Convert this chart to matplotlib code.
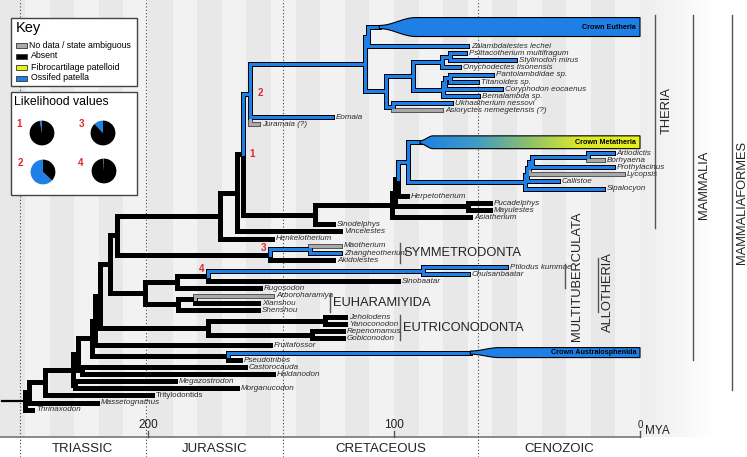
import numpy as np
import matplotlib
matplotlib.use("Agg")
import matplotlib.pyplot as plt
from matplotlib.patches import Polygon, Rectangle
from matplotlib.colors import LinearSegmentedColormap

plt.rcParams["font.family"] = ["Liberation Sans", "DejaVu Sans"]

BLUE = "#1e80e6"
GRAY = "#a9a9a9"
YELLOW = "#e8f01c"

# ---------------- tree data ----------------
TIP_NAMES = [
    "Crown Eutheria", "Zalambdalestes lechei", "Psittacotherium multifragum", "Stylinodon mirus",
    "Onychodectes tisonensis", "Pantolambdidae sp.", "Titanoides sp.", "Coryphodon eocaenus",
    "Bemalambda sp.", "Ukhaatherium nessovi", "Asioryctes nemegetensis (?)", "Eomaia", "Juramaia (?)",
    "Crown Metatheria", "Artiodictis", "Borhyaena", "Prothylacinus", "Lycopsis", "Callistoe",
    "Sipalocyon", "Herpetotherium", "Pucadelphys", "Mayulestes", "Asiatherium", "Sinodelphys",
    "Vincelestes", "Henkelotherium", "Maotherium", "Zhangheotherium", "Akidolestes",
    "Ptilodus kummae", "Chulsanbaatar", "Sinobaatar", "Rugosodon", "Arboroharamiya", "Xianshou",
    "Shenshou", "Jeholodens", "Yanoconodon", "Repenomamus", "Gobiconodon", "Fruitafossor",
    "Crown Australosphenida", "Pseudotribos", "Castorocauda", "Haldanodon", "Megazostrodon",
    "Morganucodon", "Tritylodontids", "Massetognathus", "Thrinaxodon",
]
TIP_ROWS = [-2.66, 0, 1, 2, 3, 4, 5, 6, 7, 8, 9, 10, 11, 13.5, 15, 16, 17, 18, 19, 20, 21, 22, 23,
            24, 25, 26, 27, 28, 29, 30, 31, 32, 33, 34, 35, 36, 37, 38, 39, 40, 41, 42, 43, 44, 45,
            46, 47, 48, 49, 50, 51]
TIP_AGES = [0, 70.3, 71.1, 50.8, 73.6, 60.2, 66.3, 56.5, 65.9, 76.8, 80.9, 125.2, 155.3,
            0, 11, 15, 11, 7, 33.3, 15, 94.7, 61, 61, 69, 124.8, 122, 149.6, 122, 122, 124.8,
            54.5, 70, 98.4, 154.5, 149.6, 155.3, 155.3, 120, 120, 120.7, 120.7, 150.4,
            0, 162.6, 160.6, 149.2, 189, 163.8, 198.4, 220.7, 247]
TIP_STATES = ["crown", "blue", "blue", "blue", "blue", "blue", "blue", "blue", "blue", "blue",
              "gray", "blue", "gray", "crown", "blue", "gray", "blue", "gray", "blue", "blue",
              "black", "black", "black", "black", "black", "black", "black", "gray", "blue",
              "black", "blue", "blue", "black", "black", "gray", "black", "black", "black",
              "black", "black", "black", "black", "crown", "black", "black", "black", "black",
              "black", "black", "black", "black"]

NODE_NAMES = ["root", "n29", "n45", "nB", "nA", "n92", "n95", "n100", "n110", "n117", "n220",
              "n237", "theria", "eutheria", "n365", "n368", "n386", "n413", "n442", "n450a",
              "n443", "n445", "n450b", "n393", "n315", "nX", "nY", "nZ", "n408", "n525", "n527",
              "n529", "n532", "n588", "n468", "sym3", "n310", "n145", "n177", "multi4", "n423",
              "n178", "n195", "eutric", "n325", "n312", "austral", "docodont", "morgano"]
NODE_AGES = [250, 248.4, 241.9, 230.5, 228.5, 222.8, 221.5, 219.5, 215.4, 212.6, 170.7,
             163.8, 161.4, 158.5, 111.8, 110.6, 103.3, 92.3, 80.5, 77.2,
             80.1, 79.3, 77.2, 100.4, 132.1, 100.8, 99.6, 98.4, 94.3, 46.7, 45.9,
             45.1, 43.9, 21.1, 69.9, 150.4, 134.1, 201.2, 188.2, 175.6, 88.2,
             187.8, 180.9, 175.6, 128, 133.3, 167.5, 226.8, 229.7]
NODE_CHILDREN = [
    ["n29", "Thrinaxodon"], ["n45", "Massetognathus"], ["nB", "Tritylodontids"],
    ["nA", "morgano"], ["n92", "docodont"], ["n95", "austral"], ["n100", "Fruitafossor"],
    ["n110", "eutric"], ["n117", "n145"], ["n220", "sym3"], ["n237", "Henkelotherium"],
    ["theria", "Vincelestes"], ["eutheria", "n315"], ["n365", "Eomaia", "Juramaia (?)"],
    ["n368", "n386"], ["Crown Eutheria", "Zalambdalestes lechei"], ["n413", "n393"],
    ["n442", "n443"], ["n450a", "Onychodectes tisonensis"],
    ["Psittacotherium multifragum", "Stylinodon mirus"], ["n445", "Bemalambda sp."],
    ["n450b", "Coryphodon eocaenus"], ["Pantolambdidae sp.", "Titanoides sp."],
    ["Ukhaatherium nessovi", "Asioryctes nemegetensis (?)"], ["nX", "Sinodelphys"],
    ["nY", "Asiatherium"], ["nZ", "n468"], ["n408", "Herpetotherium"],
    ["Crown Metatheria", "n525"], ["n527", "Sipalocyon"], ["n529", "Callistoe"],
    ["n532", "Lycopsis"], ["n588", "Prothylacinus"], ["Artiodictis", "Borhyaena"],
    ["Pucadelphys", "Mayulestes"], ["n310", "Akidolestes"], ["Maotherium", "Zhangheotherium"],
    ["n177", "n178"], ["multi4", "Rugosodon"], ["n423", "Sinobaatar"],
    ["Ptilodus kummae", "Chulsanbaatar"], ["n195", "Shenshou"], ["Arboroharamiya", "Xianshou"],
    ["n325", "n312"], ["Jeholodens", "Yanoconodon"], ["Repenomamus", "Gobiconodon"],
    ["Crown Australosphenida", "Pseudotribos"], ["Castorocauda", "Haldanodon"],
    ["Megazostrodon", "Morganucodon"],
]
NODE_STATES = ["black", "black", "black", "black", "black", "black", "black", "black", "black",
               "black", "black", "black", "black", "blue", "blue", "blue", "blue", "blue", "blue",
               "blue", "blue", "blue", "blue", "blue", "black", "black", "black", "black", "blue",
               "blue", "blue", "blue", "blue", "blue", "black", "black", "blue", "black", "black",
               "black", "blue", "black", "black", "black", "black", "black", "black", "black",
               "black"]
ROOT_START = 259.3

# crown wedges: start of widening, full width age, half height (rows)
CROWN_NAMES = ["Crown Eutheria", "Crown Metatheria", "Crown Australosphenida"]
CROWN_START = [106, 89.4, 69]
CROWN_FULL = [91, 84, 57]
CROWN_HALF = [1.33, 0.9, 0.7]

NODE_MARKS = ["theria", "eutheria", "sym3", "multi4"]
NODE_MARK_TEXT = ["1", "2", "3", "4"]

PERIOD_NAMES = ["TRIASSIC", "JURASSIC", "CRETACEOUS", "CENOZOIC"]
PERIOD_BOUNDS = [252, 201, 145, 66, 0]
AXIS_TICKS = [200, 100, 0]

KEY_LABELS = ["No data / state ambiguous", "Absent", "Fibrocartilage patelloid", "Ossifed patella"]
KEY_COLORS = [GRAY, "black", YELLOW, BLUE]
PIE_LABELS = ["1", "3", "2", "4"]
PIE_OSSIFIED = [0.03, 0.12, 0.63, 0.01]

# ---------------- layout ----------------
W, H = 747, 457
PX_PER_MY = 2.46
X0 = 640
ROW_PX = 7.13
ROW0 = 46


def row(y):
    return (y - ROW0) / ROW_PX


fig = plt.figure(figsize=(W / 100, H / 100), dpi=100)
ax = fig.add_axes([0, 0, 1, 1])
ax.set_xlim(X0 / PX_PER_MY, (X0 - W) / PX_PER_MY)
ax.set_ylim(row(H), row(0))
ax.axis("off")

# background stripes
axis_frac = (H - 437) / H
for i, a in enumerate(range(0, 260, 10)):
    ax.axvspan(a, a + 10, ymin=axis_frac, ymax=1,
               color="#e8e8e8" if i % 2 else "#f2f2f2", lw=0, zorder=0)
fade = np.ones((1, 64, 4))
fade[0, :, :3] = np.linspace(0.93, 1.0, 64)[:, None]
ax.imshow(fade, extent=[0, -30, row(437), row(0)], aspect="auto", zorder=0)

for b in PERIOD_BOUNDS[:-1]:
    ax.axvline(b, color="#444444", ls=(0, (1, 2)), lw=0.8, zorder=1)

# ---------------- tree positions ----------------
pos = {n: (a, r) for n, r, a in zip(TIP_NAMES, TIP_ROWS, TIP_AGES)}
kids = dict(zip(NODE_NAMES, NODE_CHILDREN))
node_age = dict(zip(NODE_NAMES, NODE_AGES))
state = dict(zip(TIP_NAMES, TIP_STATES))
state.update(zip(NODE_NAMES, NODE_STATES))
crown = {n: (s, f, h) for n, s, f, h in zip(CROWN_NAMES, CROWN_START, CROWN_FULL, CROWN_HALF)}


def place(n):
    if n in pos:
        return pos[n][1]
    rows = [place(c) for c in kids[n]]
    pos[n] = (node_age[n], (rows[0] + rows[-1]) / 2)
    return pos[n][1]


place("root")

edges = []
for n in NODE_NAMES:
    nx_, ny_ = pos[n]
    for c in kids[n]:
        cx, cy = pos[c]
        end = crown[c][0] if c in crown else cx
        edges.append(([nx_, nx_, end], [ny_, cy, cy], state[c]))

OUT_LW, IN_LW = 3.6, 2.2
ax.plot([ROOT_START, node_age["root"]], [pos["root"][1]] * 2, color="black", lw=1.6, zorder=2)
order = {"gray": 0, "black": 1, "blue": 2, "crown": 2}
edges.sort(key=lambda e: order[e[2]])
for xs, ys, st in edges:
    ax.plot(xs, ys, color="#555555" if st == "gray" else "black", lw=OUT_LW,
            solid_joinstyle="miter", solid_capstyle="projecting", zorder=2)
for xs, ys, st in edges:
    if st != "black":
        ax.plot(xs, ys, color=GRAY if st == "gray" else BLUE, lw=IN_LW,
                solid_joinstyle="miter", solid_capstyle="projecting", zorder=3)

# crown wedges
meta_cmap = LinearSegmentedColormap.from_list(
    "meta", [(0, BLUE), (0.25, "#3f9bc4"), (0.5, "#8fc16a"), (0.72, "#d9e82c"), (1, YELLOW)])
for n in CROWN_NAMES:
    a0, a1, h1 = crown[n]
    r = pos[n][1]
    xs = np.linspace(a0, a1, 40)
    t = (a0 - xs) / (a0 - a1)
    hs = 0.22 + (h1 - 0.22) * (1 - np.cos(np.pi * t)) / 2
    pts = list(zip(xs, r - hs)) + [(0, r - h1), (0, r + h1)] + list(zip(xs[::-1], r + hs[::-1]))
    if n == "Crown Metatheria":
        outline = Polygon(pts, closed=True, fc="none", ec="black", lw=0.8, zorder=5)
        ax.add_patch(outline)
        im = ax.imshow(np.linspace(0, 1, 256).reshape(1, -1), cmap=meta_cmap, aspect="auto",
                       extent=[a0, 0, r + h1, r - h1], zorder=4)
        im.set_clip_path(outline)
    else:
        ax.add_patch(Polygon(pts, closed=True, fc=BLUE, ec="black", lw=0.8, zorder=4))
    ax.text(1.6, r + 0.05, n, ha="right", va="center", fontsize=5.2, fontweight="bold",
            color="black", zorder=6)

# tip labels
for n, r, a in zip(TIP_NAMES, TIP_ROWS, TIP_AGES):
    if n in crown:
        continue
    ax.text(a - 1.6, r + 0.05, n, ha="left", va="center", fontsize=5.8, color="#2a2a2a",
            style="normal" if n == "Tritylodontids" else "italic", zorder=6)

# node marks (offset in MY / rows from the node)
mark_offsets = {"theria": (-3.5, -0.1), "eutheria": (-4.0, -0.15), "sym3": (2.8, -0.95),
                "multi4": (2.8, -0.95)}
for n, t in zip(NODE_MARKS, NODE_MARK_TEXT):
    dx, dy = mark_offsets[n]
    ax.text(pos[n][0] + dx, pos[n][1] + dy, t, color="#e02626", fontsize=7, fontweight="bold",
            ha="center", va="center", zorder=6)

# clade brackets
CLADES = [("SYMMETRODONTA", 97.6, 27.6, 30.4, 96.2, 29.0, 0),
          ("EUHARAMIYIDA", 126.0, 34.7, 37.3, 124.6, 36.0, 0),
          ("EUTRICONODONTA", 97.6, 37.7, 41.3, 96.2, 39.5, 0),
          ("MULTITUBERCULATA", 30.5, row(264), row(288), 25.6, row(276), 90),
          ("ALLOTHERIA", 17.1, row(258), row(312), 13.0, row(292), 90),
          ("THERIA", -6.1, row(15), row(228), -10.8, row(110), 90),
          ("MAMMALIA", -21.5, row(15), row(360), -26.2, row(185), 90),
          ("MAMMALIAFORMES", -37.4, row(15), row(390), -41.6, row(202), 90)]
for label, lx, r0, r1, tx, ty, rot in CLADES:
    ax.plot([lx, lx], [r0, r1], color="#555555", lw=1, zorder=6)
    ax.text(tx, ty, label, rotation=rot, fontsize=9.3, color="#222222",
            ha="left" if rot == 0 else "center", va="center", zorder=6)

# time axis
ax.plot([X0 / PX_PER_MY, 0], [row(437)] * 2, color="#777777", lw=1.2, zorder=6)
for t in AXIS_TICKS:
    ax.plot([t, t], [row(431), row(437)], color="#555555", lw=1, zorder=6)
    ax.text(t, row(425), str(t), ha="center", va="center",
            fontsize=7 if t == 0 else 8.5, color="#222222", zorder=6)
ax.text(-2.0, row(431), "MYA", ha="left", va="center", fontsize=8.5, color="#222222")
for name, a, b in zip(PERIOD_NAMES, PERIOD_BOUNDS[:-1], PERIOD_BOUNDS[1:]):
    ax.text((a + b) / 2, row(449), name, ha="center", va="center", fontsize=9.5, color="#222222")

# ---------------- key & likelihood boxes ----------------
ov = fig.add_axes([0, 0, 1, 1])
ov.set_xlim(0, W)
ov.set_ylim(H, 0)
ov.axis("off")
ov.add_patch(Rectangle((11, 18), 126, 68, fc="white", ec="#444444", lw=1, zorder=7))
ov.text(16, 28, "Key", fontsize=10.5, va="center", ha="left", zorder=8)
for i, (lab, col) in enumerate(zip(KEY_LABELS, KEY_COLORS)):
    y = 45 + i * 11
    ov.add_patch(Rectangle((16, y - 2.5), 11, 5, fc=col, ec="#333333", lw=0.6, zorder=8))
    ov.text(29 if i == 0 else 31, y, lab, fontsize=6.3, va="center", ha="left", zorder=8)

ov.add_patch(Rectangle((11, 92), 126, 103, fc="white", ec="#444444", lw=1, zorder=7))
ov.text(14, 102, "Likelihood values", fontsize=8.8, va="center", ha="left", zorder=8)
pie_centers = [(42, 133), (103, 133), (43, 172), (104, 171)]
label_pos = [(19, 124), (81, 124), (20, 163), (81, 163)]
for lab, frac, (cx, cy), (lx, ly) in zip(PIE_LABELS, PIE_OSSIFIED, pie_centers, label_pos):
    r = 15.5
    pax = fig.add_axes([(cx - r) / W, 1 - (cy + r) / H, 2 * r / W, 2 * r / H])
    pax.pie([frac, 1 - frac], colors=[BLUE, "black"], startangle=90, counterclock=True,
            wedgeprops=dict(lw=0))
    pax.set_aspect("equal")
    ov.text(lx, ly, lab, color="#e02626", fontsize=7, fontweight="bold", ha="center",
            va="center", zorder=8)

fig.savefig("out.png", dpi=100)
